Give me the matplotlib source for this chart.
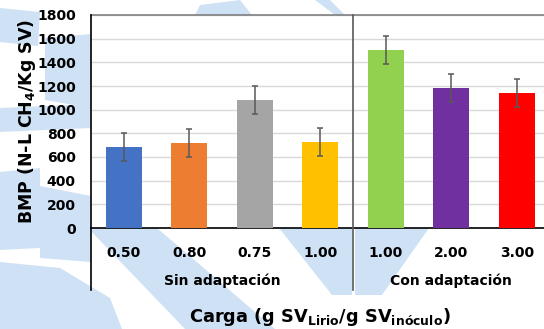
import matplotlib
matplotlib.use("Agg")
import matplotlib.pyplot as plt
from matplotlib.lines import Line2D
from matplotlib.patches import Polygon

categories = ["0.50", "0.80", "0.75", "1.00", "1.00", "2.00", "3.00"]
values = [685, 718, 1082, 727, 1504, 1183, 1141]
errors = [117, 120, 115, 118, 116, 115, 117]
colors = ["#4472C4", "#ED7D31", "#A5A5A5", "#FFC000", "#92D050", "#7030A0", "#FF0000"]
groups = ["Sin adaptación", "Con adaptación"]
group_sizes = [4, 3]
yticks = list(range(0, 1801, 200))

plt.rcParams['font.family'] = ['DejaVu Sans']
plt.rcParams['mathtext.fontset'] = 'dejavusans'

fig = plt.figure(figsize=(5.44, 3.29), dpi=100)
W, H = 544, 329

# light-blue watermark shapes in the background (pixel coords, y from top)
wm = [
    [(0, 8), (40, 12), (38, 46), (0, 42)],
    [(45, 38), (91, 34), (91, 108), (45, 100)],
    [(0, 108), (91, 104), (91, 128), (0, 132)],
    [(0, 172), (40, 168), (40, 236), (0, 240)],
    [(40, 186), (91, 196), (91, 262), (40, 258)],
    [(0, 262), (60, 268), (110, 298), (122, 329), (0, 329)],
    [(0, 228), (55, 228), (40, 248), (0, 250)],
    [(88, 228), (157, 228), (275, 329), (185, 329)],
    [(279, 228), (352, 228), (352, 295), (332, 295)],
    [(355, 228), (429, 228), (382, 295), (355, 295)],
    [(195, 15), (200, 5), (240, 0), (252, 15)],
    [(315, 0), (330, 0), (345, 15), (335, 15)],
]
for poly in wm:
    pts = [(px / W, 1 - py / H) for px, py in poly]
    fig.patches.append(Polygon(pts, closed=True, transform=fig.transFigure,
                               facecolor="#cfe2f5", edgecolor="none", zorder=-5))

ax = fig.add_axes([91 / W, (H - 228) / H, 458.5 / W, 213 / H])
ax.set_zorder(2)
ax.set_facecolor("white")

x = list(range(len(categories)))
ax.bar(x, values, width=0.55, color=colors, zorder=3)
ax.errorbar(x, values, yerr=errors, fmt="none", ecolor="#595959", elinewidth=1.1,
            capsize=2.5, capthick=1.1, zorder=4)

ax.set_xlim(-0.5, len(categories) - 0.5)
ax.set_ylim(0, 1800)
ax.set_yticks(yticks)
ax.set_yticklabels([str(t) for t in yticks], fontsize=10, fontweight="bold")
ax.yaxis.grid(True, color="#d9d9d9", linewidth=1, zorder=0)
ax.set_axisbelow(True)
ax.tick_params(axis="y", length=0, pad=11)
ax.set_xticks(x)
ax.set_xticklabels(categories, fontsize=10, fontweight="bold")
ax.tick_params(axis="x", length=0, pad=13)

ax.spines["right"].set_visible(False)
ax.spines["top"].set_color("#7f7f7f")
ax.spines["top"].set_linewidth(1.2)
ax.spines["bottom"].set_color("black")
ax.spines["bottom"].set_linewidth(1.2)
ax.spines["left"].set_visible(False)

trans = ax.get_xaxis_transform()
ylow = (H - 290 - (H - 228)) / 213.0
ax.add_line(Line2D([-0.5, -0.5], [ylow, 1], transform=trans, color="black", lw=1.2, clip_on=False, zorder=5))
ax.add_line(Line2D([3.5, 3.5], [ylow, 1], transform=trans, color="#595959", lw=1.2, clip_on=False, zorder=5))

start = -0.5
gy = ((H - 281) - (H - 228)) / 213.0
for g, n in zip(groups, group_sizes):
    ax.text(start + n / 2.0, gy, g, transform=trans, ha="center", va="center",
            fontsize=10, fontweight="semibold")
    start += n

fig.text(320 / W, (H - 317) / H, r"Carga (g SV$_{\mathbf{Lirio}}$/g SV$_{\mathbf{inóculo}}$)",
         ha="center", va="center", fontsize=12.8, fontweight="bold", zorder=10)
fig.text(27 / W, (H - 121.5) / H, r"BMP (N-L CH$_{\mathbf{4}}$/Kg SV)", rotation=90,
         ha="center", va="center", fontsize=12.5, fontweight="bold", zorder=10)

fig.savefig("out.png", dpi=100)
